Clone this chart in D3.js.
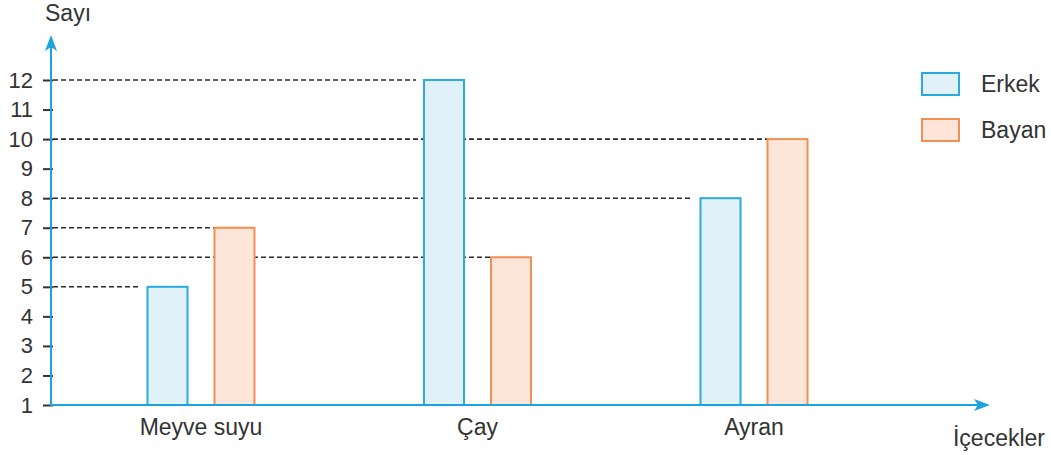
<!DOCTYPE html>
<html>
<head>
<meta charset="utf-8">
<script src="https://cdn.jsdelivr.net/npm/d3@7/dist/d3.min.js"></script>
<style>
  html, body { margin: 0; padding: 0; background: #fff; }
  svg { display: block; font-family: "Liberation Sans", Arial, Helvetica, sans-serif; }
</style>
</head>
<body>
<svg id="chart" width="1051" height="455"></svg>
<script>
// ---- data ----
const categories = ["Meyve suyu", "Çay", "Ayran"];
const seriesNames = ["Erkek", "Bayan"];
const erkekValues = [5, 12, 8];
const bayanValues = [7, 6, 10];
const yTicks = [1, 2, 3, 4, 5, 6, 7, 8, 9, 10, 11, 12];
const yAxisTitle = "Sayı";
const xAxisTitle = "İçecekler";

// ---- styles ----
const axisColor = "#1ba3e0";
const textColor = "#333333";
const fills = { Erkek: "#e0f1fa", Bayan: "#fde5d9" };
const strokes = { Erkek: "#2aaae2", Bayan: "#f28f52" };
const wordSize = 23;

const svg = d3.select("#chart");

const axisX = 51, baseY = 405;
const y = d3.scaleLinear().domain([1, 12]).range([baseY, 80]);
const x0 = d3.scalePoint().domain(categories).range([201, 754]);
const barW = 40, barGap = 27;
const x1 = d3.scaleOrdinal().domain(seriesNames).range([-(barW + barGap) / 2 - barW / 2, (barW + barGap) / 2 - barW / 2]);

const bars = [];
categories.forEach((c, i) => {
  bars.push({ cat: c, s: "Erkek", v: erkekValues[i] });
  bars.push({ cat: c, s: "Bayan", v: bayanValues[i] });
});

// dashed guide lines (behind bars)
svg.append("g").selectAll("line").data(bars).join("line")
  .attr("x1", axisX + 2)
  .attr("x2", d => x0(d.cat) + x1(d.s) - (d.s === "Erkek" ? 8 : 0))
  .attr("y1", d => y(d.v))
  .attr("y2", d => y(d.v))
  .attr("stroke", "#2a2a2a")
  .attr("stroke-width", 1.6)
  .attr("stroke-dasharray", "5,3");

// y axis ticks & labels
const yAxis = d3.axisLeft(y).tickValues(yTicks).tickFormat(d3.format("d"))
  .tickSizeInner(8).tickSizeOuter(0).tickPadding(10);
const gy = svg.append("g").attr("transform", `translate(${axisX},0)`).call(yAxis);
gy.select(".domain").remove();
gy.selectAll(".tick line").attr("stroke", "#333").attr("stroke-width", 2).attr("x2", -8).attr("x1", 2);
gy.selectAll(".tick text").attr("fill", textColor).attr("font-size", 22)
  .attr("font-family", "'Liberation Sans', Arial, sans-serif");

// bars
svg.append("g").selectAll("rect").data(bars).join("rect")
  .attr("x", d => x0(d.cat) + x1(d.s))
  .attr("y", d => y(d.v))
  .attr("width", barW)
  .attr("height", d => baseY - y(d.v))
  .attr("fill", d => fills[d.s])
  .attr("stroke", d => strokes[d.s])
  .attr("stroke-width", 2);

// axes lines with arrows
svg.append("line").attr("x1", axisX).attr("x2", 978).attr("y1", baseY).attr("y2", baseY)
  .attr("stroke", axisColor).attr("stroke-width", 2);
svg.append("path").attr("d", `M990,${baseY} L974,${baseY - 6} L978,${baseY} L974,${baseY + 6} Z`).attr("fill", axisColor);
svg.append("line").attr("x1", axisX).attr("x2", axisX).attr("y1", baseY + 1).attr("y2", 46)
  .attr("stroke", axisColor).attr("stroke-width", 2);
svg.append("path").attr("d", `M${axisX},35 L${axisX - 6},51 L${axisX},47 L${axisX + 6},51 Z`).attr("fill", axisColor);

// category labels
svg.append("g").selectAll("text").data(categories).join("text")
  .attr("x", d => x0(d))
  .attr("y", 435)
  .attr("text-anchor", "middle")
  .attr("fill", textColor)
  .attr("font-size", wordSize)
  .text(d => d);

// axis titles
svg.append("text").attr("x", 45).attr("y", 21).attr("fill", textColor).attr("font-size", wordSize).text(yAxisTitle);
svg.append("text").attr("x", 1045).attr("y", 446).attr("text-anchor", "end").attr("fill", textColor).attr("font-size", wordSize).text(xAxisTitle);

// legend
const lg = svg.append("g").selectAll("g").data(seriesNames).join("g")
  .attr("transform", (d, i) => `translate(922,${73 + i * 46})`);
lg.append("rect").attr("width", 37).attr("height", 22)
  .attr("fill", d => fills[d]).attr("stroke", d => strokes[d]).attr("stroke-width", 2);
lg.append("text").attr("x", 59).attr("y", 19).attr("fill", textColor).attr("font-size", wordSize).text(d => d);
</script>
</body>
</html>
